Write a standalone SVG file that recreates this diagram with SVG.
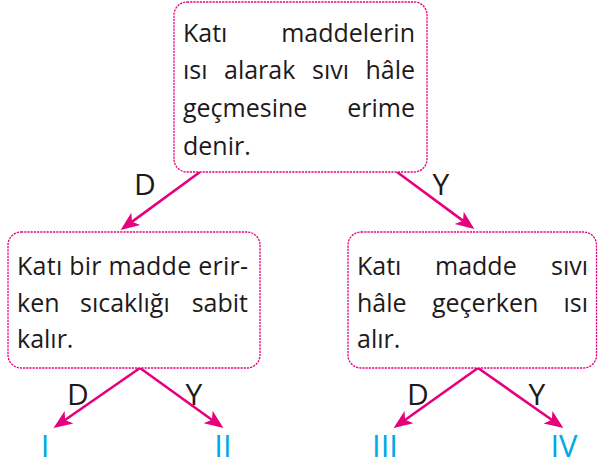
<svg xmlns="http://www.w3.org/2000/svg" width="598" height="466" viewBox="0 0 598 466">
<style>
.box{fill:#fff;stroke:#e6007e;stroke-width:1.3;stroke-dasharray:2.2 1}
.t{font-family:"Open Sans","Noto Sans",sans-serif;font-size:25px;fill:#1e1a1b}
.e{text-anchor:end}
.lab{font-family:"Open Sans","Noto Sans",sans-serif;font-size:30px;fill:#1e1a1b;text-anchor:middle}
.num{font-family:"Open Sans","Noto Sans",sans-serif;font-size:31px;fill:#00a9e6;text-anchor:middle}
.arr{stroke:#e6007e;stroke-width:2.6;fill:none;marker-end:url(#ah)}
</style>
<defs>
<marker id="ah" markerUnits="userSpaceOnUse" markerWidth="20" markerHeight="20" viewBox="0 -8 17 16" refX="6" refY="0" orient="auto">
<path d="M0,-6.5 L16,0 L0,6.5 L4,0 Z" fill="#e6007e"/>
</marker>
</defs>
<g id="connectors">
<path class="arr" d="M200,172 L130.1,223.1"/>
<path class="arr" d="M397,172 L464.9,222.1"/>
<path class="arr" d="M140,368 L63.2,421.3"/>
<path class="arr" d="M140,368 L213.9,421.2"/>
<path class="arr" d="M478,368 L403.2,421.2"/>
<path class="arr" d="M478,368 L553.8,421.2"/>
<text class="lab" x="145" y="195">D</text>
<text class="lab" x="441" y="195">Y</text>
<text class="lab" x="78" y="405">D</text>
<text class="lab" x="194" y="405">Y</text>
<text class="lab" x="418" y="405">D</text>
<text class="lab" x="537" y="405">Y</text>
</g>
<g id="root">
<rect class="box" x="174" y="2" width="253" height="170" rx="13"/>
<text class="t" x="183" y="42">Katı</text>
<text class="t e" x="415" y="42">maddelerin</text>
<text class="t" x="183" y="79">ısı</text>
<text class="t" x="224" y="79">alarak</text>
<text class="t" x="312" y="79">sıvı</text>
<text class="t e" x="415" y="79">hâle</text>
<text class="t" x="183" y="117">geçmesine</text>
<text class="t e" x="415" y="117">erime</text>
<text class="t" x="183" y="155">denir.</text>
</g>
<g id="left">
<rect class="box" x="8" y="232" width="252" height="136" rx="13"/>
<text class="t" x="17" y="275" textLength="231" lengthAdjust="spacing">Katı bir madde erir-</text>
<text class="t" x="17" y="312">ken</text>
<text class="t" x="80" y="312">sıcaklığı</text>
<text class="t e" x="248" y="312">sabit</text>
<text class="t" x="17" y="348">kalır.</text>
</g>
<g id="right">
<rect class="box" x="348" y="232" width="248.5" height="136" rx="13"/>
<text class="t" x="357" y="275">Katı</text>
<text class="t" x="435" y="275">madde</text>
<text class="t e" x="588" y="275">sıvı</text>
<text class="t" x="357" y="312">hâle</text>
<text class="t" x="432" y="312">geçerken</text>
<text class="t e" x="588" y="312">ısı</text>
<text class="t" x="357" y="348">alır.</text>
</g>
<g id="n1"><text class="num" x="45" y="457">I</text></g>
<g id="n2"><text class="num" x="223" y="457">II</text></g>
<g id="n3"><text class="num" x="385" y="457">III</text></g>
<g id="n4"><text class="num" x="564" y="457">IV</text></g>
</svg>
